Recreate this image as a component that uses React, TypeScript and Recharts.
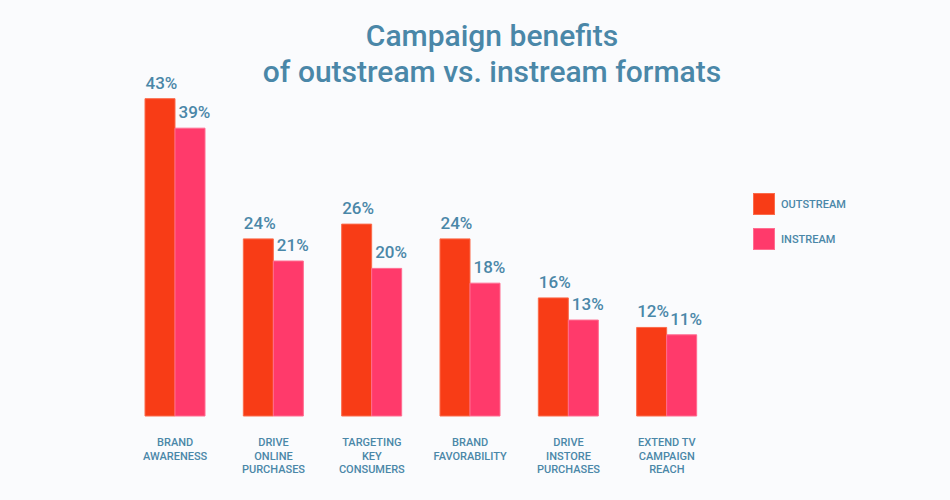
import React from "react";
import { BarChart, Bar, XAxis, YAxis, LabelList } from "recharts";

const categories = [
  "BRAND\nAWARENESS",
  "DRIVE\nONLINE\nPURCHASES",
  "TARGETING\nKEY\nCONSUMERS",
  "BRAND\nFAVORABILITY",
  "DRIVE\nINSTORE\nPURCHASES",
  "EXTEND TV\nCAMPAIGN\nREACH",
];
const outstream = [43, 24, 26, 24, 16, 12];
const instream = [39, 21, 20, 18, 13, 11];
const seriesNames = ["OUTSTREAM", "INSTREAM"];
const titleLines = ["Campaign benefits", "of outstream vs. instream formats"];

const data = categories.map((c, i) => ({ name: c, outstream: outstream[i], instream: instream[i] }));

const TEXT = "#4A87A8";
const ORANGE = "#F83C16";
const PINK = "#FF3A6B";
const COLORS = [ORANGE, PINK];
const EDGES = ["#FB6B4B", "#FF6D90"];
const FONT = "Roboto, 'Noto Sans', sans-serif";

const Tick = (props: any) => {
  const { x, y, payload } = props;
  const lines = String(payload.value).split("\n");
  return (
    <g>
      {lines.map((l, i) => (
        <text key={i} x={x} y={y + 30 + i * 13.6} textAnchor="middle" fill={TEXT} fontSize={11} fontWeight={500} fontFamily={FONT}>
          {l}
        </text>
      ))}
    </g>
  );
};

const makeLabel = (dx: number) => (props: any) => {
  const { x, y, value } = props;
  return (
    <text x={x + dx} y={y - 10} textAnchor="start" fill={TEXT} fontSize={17} fontWeight={500} fontFamily={FONT}>
      {value}%
    </text>
  );
};
const OutLabel = makeLabel(0.5);
const InLabel = makeLabel(3.5);

export default function App() {
  return (
    <div style={{ position: "relative", width: 950, height: 500, background: "#FAFBFD" }}>
      <style>{`body{margin:0;}`}</style>
      <BarChart
        width={950}
        height={500}
        data={data}
        margin={{ top: 47, right: 234, bottom: 24, left: 126 }}
        barGap={0}
        barSize={30}
      >
        <XAxis dataKey="name" axisLine={false} tickLine={false} tickSize={0} tickMargin={0} height={60} interval={0} tick={<Tick />} />
        <YAxis hide domain={[0, 50]} />
        <Bar dataKey="outstream" fill={ORANGE} stroke={EDGES[0]} strokeWidth={1} isAnimationActive={false}>
          <LabelList dataKey="outstream" content={<OutLabel />} />
        </Bar>
        <Bar dataKey="instream" fill={PINK} stroke={EDGES[1]} strokeWidth={1} isAnimationActive={false}>
          <LabelList dataKey="instream" content={<InLabel />} />
        </Bar>
      </BarChart>
      <div style={{ position: "absolute", left: 753, top: 193, fontFamily: FONT }}>
        {seriesNames.map((n, i) => (
          <div key={n} style={{ display: "flex", alignItems: "center", height: 22, marginBottom: 13 }}>
            <div style={{ width: 22, height: 22, background: COLORS[i], boxSizing: "border-box", border: `1px solid ${EDGES[i]}` }} />
            <span style={{ marginLeft: 6, fontSize: 11, fontWeight: 500, color: TEXT }}>{n}</span>
          </div>
        ))}
      </div>
      <svg width={950} height={100} style={{ position: "absolute", left: 0, top: 0, pointerEvents: "none" }}>
        {titleLines.map((t, i) => (
          <text key={i} x={492} y={46 + i * 36} textAnchor="middle" fill={TEXT} fontSize={30} fontWeight={500} fontFamily={FONT}>
            {t}
          </text>
        ))}
      </svg>
    </div>
  );
}
